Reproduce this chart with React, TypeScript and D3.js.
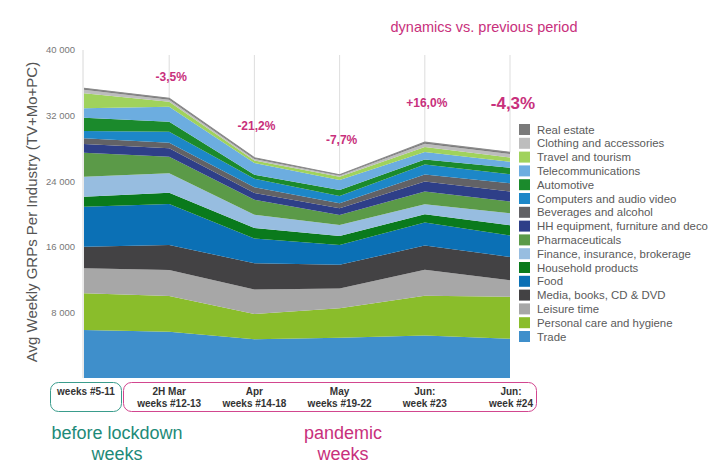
import React from "react";
import * as d3 from "d3";

// ---------- DATA ----------
const periods = ["W5-11", "W12-13", "W14-18", "W19-22", "W23", "W24"];
const periodLine1 = ["weeks #5-11", "2H Mar", "Apr", "May", "Jun:", "Jun:"];
const periodLine2 = ["", "weeks #12-13", "weeks #14-18", "weeks #19-22", "week #23", "week #24"];
const dynamics = ["-3,5%", "-21,2%", "-7,7%", "+16,0%", "-4,3%"];
const yTicks = [8000, 16000, 24000, 32000, 40000];

// stack order: bottom -> top
const industries = [
  "Trade",
  "Personal care and hygiene",
  "Leisure time",
  "Media, books, CD & DVD",
  "Food",
  "Household products",
  "Finance, insurance, brokerage",
  "Pharmaceuticals",
  "HH equipment, furniture and deco",
  "Beverages and alcohol",
  "Computers and audio video",
  "Automotive",
  "Telecommunications",
  "Travel and tourism",
  "Clothing and accessories",
  "Real estate",
];

const trade = [5850, 5650, 4720, 4900, 5180, 4800];
const personalCare = [4480, 4350, 3080, 3600, 4860, 5100];
const leisure = [3050, 3170, 3000, 2400, 3170, 2030];
const media = [2630, 3050, 3200, 2900, 2950, 2840];
const food = [4880, 5000, 3000, 2410, 2790, 2600];
const household = [1220, 1380, 1300, 1100, 1020, 1250];
const finance = [2440, 2370, 1620, 1340, 1220, 1480];
const pharma = [2930, 2020, 1830, 1220, 1560, 1430];
const hhEquipment = [1060, 1020, 820, 820, 1210, 1220];
const beverages = [700, 680, 680, 610, 870, 1010];
const computers = [890, 1340, 1060, 890, 1210, 1100];
const automotive = [1620, 1220, 490, 730, 610, 770];
const telecom = [1150, 1830, 1430, 1220, 910, 750];
const travel = [1830, 610, 280, 400, 610, 500];
const clothing = [420, 240, 200, 150, 390, 450];
const realEstate = [180, 180, 150, 100, 200, 190];

const seriesValues = [
  trade, personalCare, leisure, media, food, household, finance, pharma,
  hhEquipment, beverages, computers, automotive, telecom, travel, clothing, realEstate,
];

const colors = [
  "#3f8fcb", // Trade
  "#8abd2b", // Personal care
  "#a7a7a7", // Leisure
  "#434244", // Media
  "#0b70b5", // Food
  "#0a7a1c", // Household
  "#97bde0", // Finance
  "#5b9a48", // Pharma
  "#2e3f88", // HH equipment
  "#626266", // Beverages
  "#1d87c8", // Computers
  "#1b8a2c", // Automotive
  "#6cade0", // Telecom
  "#a0d25c", // Travel
  "#bdbdbd", // Clothing
  "#7a7a7a", // Real estate
];

// ---------- LAYOUT ----------
const W = 728, H = 472;
const X0 = 84, X1 = 510;
const Y_TOP = 50, Y_BOTTOM = 378;
const labelY = [77, 126, 140, 103, 103];
const FONT = "'Liberation Sans', Arial, Helvetica, sans-serif";
const PINK = "#c8307c";
const TEAL = "#1d8a78";

export default function App() {
  const x = d3.scalePoint<string>().domain(periods).range([X0, X1]);
  const y = d3.scaleLinear().domain([0, 40000]).range([Y_BOTTOM, Y_TOP]);

  const rows = periods.map((p, i) => {
    const r: Record<string, any> = { period: p };
    industries.forEach((name, k) => (r[name] = seriesValues[k][i]));
    return r;
  });
  const stacked = d3.stack<any>().keys(industries)(rows);
  const area = d3
    .area<any>()
    .x((d) => x(d.data.period) as number)
    .y0((d) => y(d[0]))
    .y1((d) => y(d[1]));
  const topLine = d3
    .line<any>()
    .x((d) => x(d.data.period) as number)
    .y((d) => y(d[1]));
  const top = stacked[stacked.length - 1];

  const fmt = (v: number) => d3.format(",")(v).replace(/,/g, " ");

  const legendX = 519, legendY0 = 124, legendStep = 13.8;

  return (
    <svg
      width={W}
      height={H}
      style={{ position: "absolute", left: 0, top: 0, background: "#fff" }}
      fontFamily={FONT}
    >
      <rect width={W} height={H} fill="#fff" />
      {/* y axis line */}
      <line x1={X0 - 1} x2={X0 - 1} y1={Y_TOP} y2={Y_BOTTOM} stroke="#d8d8d8" strokeWidth={1} />
      {/* y tick labels */}
      {yTicks.map((t) => (
        <text key={t} x={75} y={y(t)} dy="0.35em" textAnchor="end" fontSize={9.5} fill="#777">
          {fmt(t)}
        </text>
      ))}
      {/* y title */}
      <text
        transform={`translate(37,${(Y_TOP + Y_BOTTOM) / 2 - 2}) rotate(-90)`}
        textAnchor="middle"
        fontSize={15}
        fill="#555"
      >
        Avg Weekly GRPs Per Industry (TV+Mo+PC)
      </text>

      {/* gridlines */}
      {periods.slice(1).map((p, i) => (
        <line
          key={p}
          x1={x(p)}
          x2={x(p)}
          y1={55}
          y2={y(top[i + 1][1])}
          stroke="#d4d4d4"
          strokeWidth={0.8}
        />
      ))}

      {/* areas */}
      {stacked.map((s, k) => (
        <path key={s.key} d={area(s) as string} fill={colors[k]} />
      ))}
      <path d={topLine(top) as string} fill="none" stroke="#8a8a8a" strokeWidth={1.2} />

      {/* dynamics labels */}
      <text x={484} y={27} dy="0.35em" textAnchor="middle" fontSize={14.5} fill={PINK}>
        dynamics vs. previous period
      </text>
      {dynamics.map((d, i) => {
        const last = i === dynamics.length - 1;
        return (
          <text
            key={d}
            x={(x(periods[i + 1]) as number) + (last ? 3 : 2)}
            y={labelY[i]}
            dy="0.35em"
            textAnchor="middle"
            fontSize={last ? 17 : 12}
            fontWeight="bold"
            fill={PINK}
          >
            {d}
          </text>
        );
      })}

      {/* legend */}
      {industries
        .map((name, k) => ({ name, k }))
        .reverse()
        .map((d, i) => (
          <g key={d.name} transform={`translate(${legendX},${legendY0 + i * legendStep})`}>
            <rect x={0} y={0} width={11} height={11} fill={colors[d.k]} />
            <text x={18} y={5.5} dy="0.35em" fontSize={11.4} fill="#5a5a5a">
              {d.name}
            </text>
          </g>
        ))}

      {/* x period boxes */}
      <rect x={50.5} y={382.5} width={71} height={29} rx={8} fill="none" stroke="#3a9c8c" strokeWidth={1} />
      <rect x={123.5} y={382.5} width={413} height={29} rx={8} fill="none" stroke="#d2468f" strokeWidth={1} />
      {periods.map((p, i) => {
        const cx = i === 0 ? 86 : i === 5 ? 511 : (x(p) as number);
        return (
          <g key={p}>
            <text x={cx} y={391} dy="0.35em" textAnchor="middle" fontSize={10} fontWeight="bold" fill="#333">
              {periodLine1[i]}
            </text>
            {periodLine2[i] && (
              <text x={cx} y={403} dy="0.35em" textAnchor="middle" fontSize={10} fontWeight="bold" fill="#333">
                {periodLine2[i]}
              </text>
            )}
          </g>
        );
      })}

      {/* group captions */}
      <text x={117} y={433} dy="0.35em" textAnchor="middle" fontSize={18} fill={TEAL}>
        before lockdown
      </text>
      <text x={117} y={454} dy="0.35em" textAnchor="middle" fontSize={18} fill={TEAL}>
        weeks
      </text>
      <text x={343} y={433} dy="0.35em" textAnchor="middle" fontSize={18} fill={PINK}>
        pandemic
      </text>
      <text x={343} y={454} dy="0.35em" textAnchor="middle" fontSize={18} fill={PINK}>
        weeks
      </text>
    </svg>
  );
}
